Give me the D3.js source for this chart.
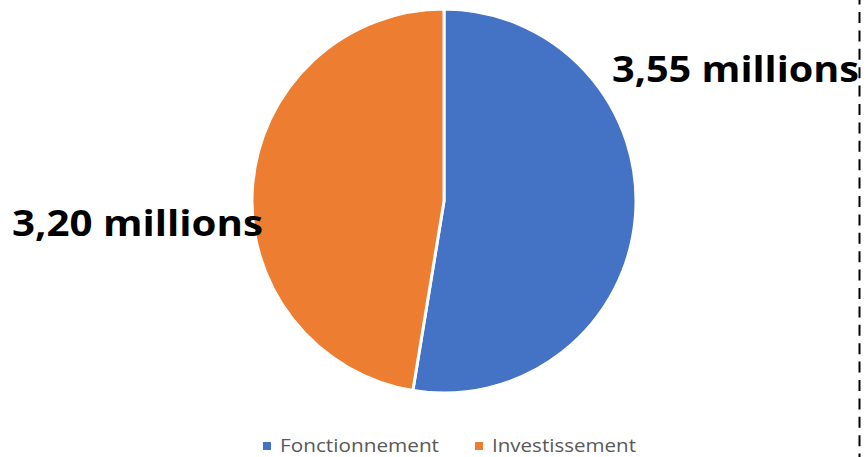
<!DOCTYPE html>
<html><head><meta charset="utf-8">
<script src="https://cdn.jsdelivr.net/npm/d3@7"></script>
<style>html,body{margin:0;padding:0;background:#fff;}svg{display:block;}</style>
</head><body>
<script>
const categories = ["Fonctionnement", "Investissement"];
const values = [3.55, 3.20];
const labels = ["3,55 millions", "3,20 millions"];
const colors = ["#4472C4", "#ED7D31"];

const W = 866, H = 457;
const svg = d3.select("body").append("svg").attr("width", W).attr("height", H);

const cx = 444, cy = 201, r = 192;
const pie = d3.pie().sort(null).value(d => d.v);
const arcs = pie(categories.map((c, i) => ({c, v: values[i], i})));
const arc = d3.arc().innerRadius(0).outerRadius(r);

const g = svg.append("g").attr("transform", `translate(${cx},${cy})`);
g.selectAll("path").data(arcs).enter().append("path")
  .attr("d", arc)
  .attr("fill", d => colors[d.data.i])
  .attr("stroke", "#fff")
  .attr("stroke-width", 3)
  .attr("stroke-linejoin", "round");

// data labels
const labelPos = [{x: 612, y: 82, w: 247}, {x: 12, y: 236, w: 251}];
svg.selectAll("text.lbl").data(labels).enter().append("text")
  .attr("class", "lbl")
  .attr("x", (d, i) => labelPos[i].x)
  .attr("y", (d, i) => labelPos[i].y)
  .attr("textLength", (d, i) => labelPos[i].w)
  .attr("lengthAdjust", "spacingAndGlyphs")
  .attr("font-family", "'Open Sans', sans-serif")
  .attr("font-weight", "bold")
  .attr("font-size", 36)
  .attr("fill", "#000")
  .text(d => d);

// dashed border line
svg.append("line")
  .attr("x1", 859.5).attr("x2", 859.5)
  .attr("y1", -6.4).attr("y2", H)
  .attr("stroke", "#000").attr("stroke-width", 2)
  .attr("stroke-dasharray", "11,7.4");

// legend
const legPos = [{sx: 263, tx: 280, tw: 159}, {sx: 475, tx: 492, tw: 144}];
const leg = svg.selectAll("g.leg").data(categories).enter().append("g").attr("class", "leg");
leg.append("rect")
  .attr("x", (d, i) => legPos[i].sx).attr("y", 442)
  .attr("width", 8).attr("height", 8)
  .attr("fill", (d, i) => colors[i]);
leg.append("text")
  .attr("x", (d, i) => legPos[i].tx).attr("y", 452)
  .attr("textLength", (d, i) => legPos[i].tw)
  .attr("lengthAdjust", "spacingAndGlyphs")
  .attr("font-family", "'Open Sans', sans-serif")
  .attr("font-size", 18)
  .attr("fill", "#595959")
  .text(d => d);
</script>
</body></html>
